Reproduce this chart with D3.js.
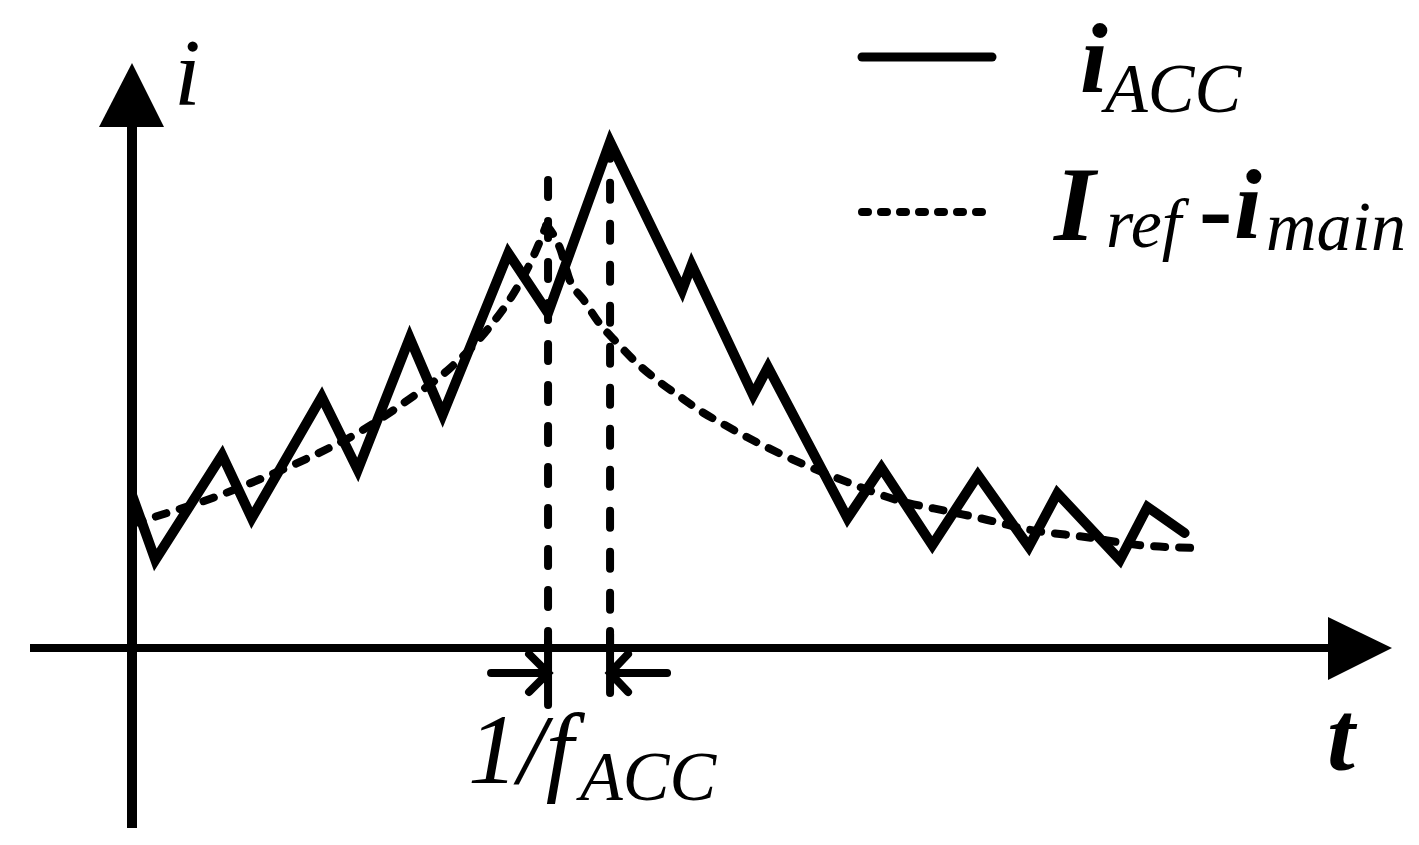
<!DOCTYPE html>
<html>
<head>
<meta charset="utf-8">
<script src="https://cdn.jsdelivr.net/npm/d3@7"></script>
<style>
  body { margin: 0; background: #fff; }
  svg text { font-family: "Liberation Serif", "Times New Roman", Tinos, Times, serif; fill: #000; }
</style>
</head>
<body>
<div id="chart"></div>
<script>
// i_ACC (solid zigzag)
var accT = [0, 2.2, 8.5, 11.3, 17.9, 21.3, 26.2, 29.3, 35.5, 39.25, 45.1, 51.9, 52.8, 58.6, 60.0, 67.5, 70.7, 75.5, 79.8, 84.6, 87.3, 93.2, 95.8, 99.3];
var accI = [28.9, 16.6, 36.4, 24.5, 47.4, 33.6, 58.5, 44.0, 74.5, 63.2, 95.5, 67.5, 72.3, 47.7, 53.0, 24.5, 34.0, 19.4, 32.6, 19.1, 29.2, 16.6, 26.6, 21.7];

// Iref - imain (dashed), rising part then decaying part
var riseT = [0, 2.4, 7.6, 12.6, 17.0, 21.5, 25.9, 30.0, 33.5, 36.3, 37.8, 39.1];
var riseI = [23.4, 24.9, 28.3, 32.3, 36.2, 40.8, 46.6, 52.8, 60.0, 67.9, 73.6, 79.8];
var fallT = [39.1, 40.4, 41.3, 42.6, 44.0, 45.8, 47.5, 49.5, 51.7, 53.8, 55.9, 58.0, 62.4, 67.5, 72.2, 77.2, 80.0, 84.7, 90.1, 95.1, 100];
var fallI = [79.8, 75.3, 69.4, 65.7, 61.5, 57.5, 54.0, 50.6, 47.4, 44.5, 42.1, 39.8, 35.5, 31.3, 27.9, 25.7, 24.5, 22.3, 20.9, 19.4, 18.9];

// vertical markers (t) and their top ends (i)
var markT = [39.25, 45.1];
var markTop = [88.3, 95.5];

var legendNames = ["ACC", "ref", "main"];

var W = 1419, H = 845;
var svg = d3.select("#chart").append("svg")
    .attr("width", W)
    .attr("height", H);

var x = d3.scaleLinear().domain([0, 100]).range([132, 1192]);
var y = d3.scaleLinear().domain([0, 100]).range([648, 118]);

// axes as arrows
svg.append("line")
    .attr("x1", 30).attr("x2", 1332)
    .attr("y1", y(0)).attr("y2", y(0))
    .attr("stroke", "#000").attr("stroke-width", 8);
svg.append("path")
    .attr("d", "M1328," + (y(0) - 31) + "L1392," + y(0) + "L1328," + (y(0) + 32) + "Z")
    .attr("fill", "#000");
svg.append("line")
    .attr("x1", x(0)).attr("x2", x(0))
    .attr("y1", 124).attr("y2", 828)
    .attr("stroke", "#000").attr("stroke-width", 10);
svg.append("path")
    .attr("d", "M" + (x(0) - 33) + ",127L" + x(0) + ",63L" + (x(0) + 32) + ",127Z")
    .attr("fill", "#000");

// vertical dashed markers
markT.forEach(function (t, k) {
  svg.append("line")
      .attr("x1", x(t)).attr("x2", x(t))
      .attr("y1", y(markTop[k])).attr("y2", y(0))
      .attr("stroke", "#000").attr("stroke-width", 8)
      .attr("stroke-linecap", "round")
      .attr("stroke-dasharray", "17,24");
});

// 1/f_ACC dimension arrows
var ya = 673;
var xl = x(markT[0]), xr = x(markT[1]);
svg.append("path")
    .attr("d",
      "M" + xl + ",641V705" +
      "M" + (xl - 57) + "," + ya + "H" + xl +
      "M" + (xl - 19) + "," + (ya - 19) + "L" + xl + "," + ya + "L" + (xl - 19) + "," + (ya + 19) +
      "M" + xr + ",631V693" +
      "M" + (xr + 57) + "," + ya + "H" + xr +
      "M" + (xr + 18) + "," + (ya - 19) + "L" + xr + "," + ya + "L" + (xr + 18) + "," + (ya + 19))
    .attr("fill", "none").attr("stroke", "#000").attr("stroke-width", 8)
    .attr("stroke-linecap", "round");

// dashed reference curve
var curve = d3.line()
    .x(function (d) { return x(d[0]); })
    .y(function (d) { return y(d[1]); })
    .curve(d3.curveMonotoneX);

[[riseT, riseI], [fallT, fallI]].forEach(function (s) {
  svg.append("path")
      .datum(d3.zip(s[0], s[1]))
      .attr("d", curve)
      .attr("fill", "none").attr("stroke", "#000").attr("stroke-width", 8)
      .attr("stroke-linecap", "round")
      .attr("stroke-dasharray", "11,14");
});

// solid i_ACC
var zig = d3.line()
    .x(function (d) { return x(d[0]); })
    .y(function (d) { return y(d[1]); });
svg.append("path")
    .datum(d3.zip(accT, accI))
    .attr("d", zig)
    .attr("fill", "none").attr("stroke", "#000").attr("stroke-width", 10)
    .attr("stroke-linejoin", "miter").attr("stroke-miterlimit", 6)
    .attr("stroke-linecap", "round");

// legend
svg.append("line")
    .attr("x1", 862).attr("x2", 992).attr("y1", 57).attr("y2", 57)
    .attr("stroke", "#000").attr("stroke-width", 9).attr("stroke-linecap", "round");
svg.append("line")
    .attr("x1", 862).attr("x2", 992).attr("y1", 212).attr("y2", 212)
    .attr("stroke", "#000").attr("stroke-width", 8).attr("stroke-linecap", "round")
    .attr("stroke-dasharray", "6,13");

var t1 = svg.append("text").attr("x", 1080).attr("y", 92);
t1.append("tspan").attr("font-size", 100).attr("font-style", "italic").attr("font-weight", "bold").text("i");
t1.append("tspan").attr("x", 1105).attr("y", 112).attr("font-size", 70).attr("font-style", "italic").text(legendNames[0]);

var t2 = svg.append("text").attr("x", 1054).attr("y", 240);
t2.append("tspan").attr("font-size", 106).attr("font-style", "italic").attr("font-weight", "bold").text("I");
t2.append("tspan").attr("x", 1106).attr("y", 247).attr("font-size", 70).attr("font-style", "italic").text(legendNames[1]);
t2.append("tspan").attr("x", 1199).attr("y", 242).attr("font-size", 100).attr("font-weight", "bold").text("-");
t2.append("tspan").attr("x", 1234).attr("y", 238).attr("font-size", 100).attr("font-style", "italic").attr("font-weight", "bold").text("i");
t2.append("tspan").attr("x", 1266).attr("y", 250).attr("font-size", 70).attr("font-style", "italic").text(legendNames[2]);

// axis labels
svg.append("text").attr("x", 174).attr("y", 105)
    .attr("font-size", 96).attr("font-style", "italic").text("i");
svg.append("text").attr("x", 1327).attr("y", 770)
    .attr("font-size", 100).attr("font-style", "italic").attr("font-weight", "bold").text("t");

var t3 = svg.append("text").attr("x", 468).attr("y", 783);
t3.append("tspan").attr("font-size", 100).attr("font-style", "italic").text("1/f");
t3.append("tspan").attr("x", 580).attr("y", 800).attr("font-size", 70).attr("font-style", "italic").text(legendNames[0]);
</script>
</body>
</html>
